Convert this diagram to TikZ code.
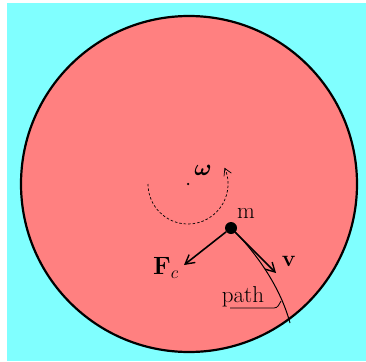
\documentclass[tikz,border=0pt]{standalone}
\usepackage{fix-cm}
\usepackage{bm}
\usetikzlibrary{arrows.meta}
\definecolor{bgcyan}{HTML}{80FFFF}
\definecolor{disc}{HTML}{FF8080}
\tikzset{
  lbl/.style={inner sep=0pt, font=\fontsize{23}{27}\selectfont},
  vec/.style={line width=1.6pt, -{Straight Barb[length=9pt,width=10pt,line width=1.4pt]}},
}
\begin{document}
\begin{tikzpicture}[x=1pt,y=-1pt]
\useasboundingbox (0,0) rectangle (366,361);
\fill[bgcyan] (7,3) rectangle (366,361);
\fill[disc] (189,184) circle[radius=168];

% centre and sense of rotation
\node[circle, fill, inner sep=0pt, minimum size=2.5pt] (O) at (188,184) {};
\node[lbl] (w) at (203,170) {$\bm{\omega}$};
\draw[dashed, dash pattern=on 2.5pt off 2pt, line width=0.7pt, -{Straight Barb[length=7pt,width=8pt]}]
  (148,184) arc[start angle=180, end angle=-24, radius=40];

% path of the mass
\draw[line width=1pt] (231,228) .. controls (250,246) and (279,282) .. (290,323);

% mass and vectors
\node[circle, fill, inner sep=0pt, minimum size=12pt] (m) at (231,228) {};
\node[lbl] (mlbl) at (246,213) {m};
\coordinate (Fc) at (184,265);
\coordinate (v) at (276,273);
\draw[vec] (m) -- (Fc);
\draw[vec] (m) -- (v);
\node[lbl, font=\fontsize{25}{29}\selectfont] (Fclbl) at (166,268) {$\mathbf{F}_{c}$};
\node[lbl] (vlbl) at (289,261) {$\mathbf{v}$};

% label of the path
\node[lbl] (pathlbl) at (243,297) {path};
\draw[line width=0.8pt] (230,308) -- (274,308) to[out=0,in=-120] (281,301);

\draw[line width=2.2pt] (189,184) circle[radius=168];
\end{tikzpicture}
\end{document}
